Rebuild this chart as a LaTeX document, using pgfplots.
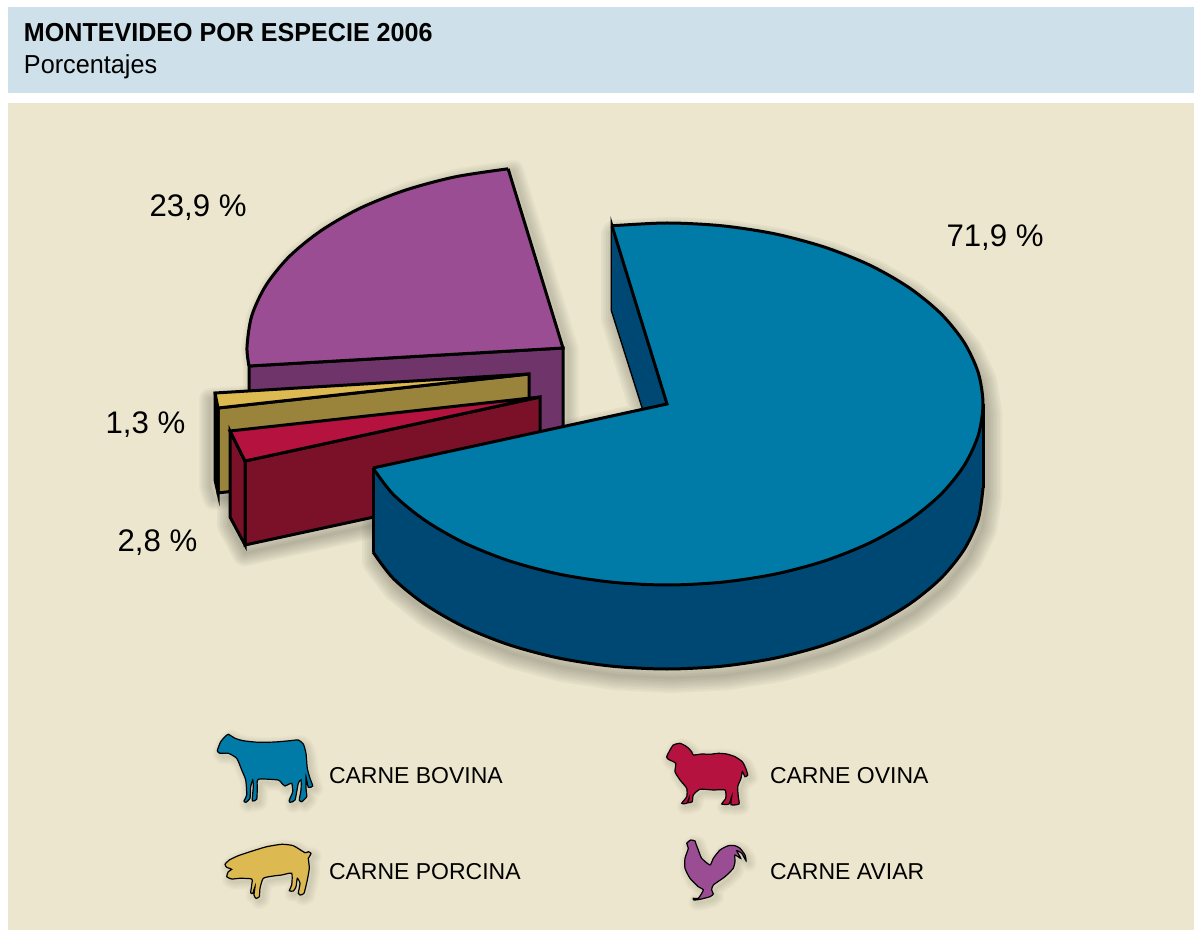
\documentclass[border=0pt]{standalone}
\usepackage{fontspec}
\setmainfont{Liberation Sans}
\usepackage{pgfplots}
\usepackage{pgfplotstable}
\pgfplotsset{compat=1.18}

\definecolor{headbg}{RGB}{206,224,234}
\definecolor{panelbg}{RGB}{235,230,205}
\definecolor{bovina}{RGB}{0,123,167}
\definecolor{bovinadark}{RGB}{0,72,116}
\definecolor{aviar}{RGB}{155,77,147}
\definecolor{aviardark}{RGB}{111,52,105}
\definecolor{porcina}{RGB}{221,185,81}
\definecolor{porcinadark}{RGB}{154,132,59}
\definecolor{ovina}{RGB}{181,18,63}
\definecolor{ovinadark}{RGB}{122,17,40}

% pie faces, in picture pixels
\pgfplotstableread{
x y
612.1 225.8
667 223
721.9 225.8
775.1 233.9
825 247.3
870.1 265.3
909.1 287.7
940.7 313.5
963.9 342.1
978.2 372.6
983 404
978.2 435.4
963.9 465.9
940.7 494.5
909.1 520.3
870.1 542.7
825 560.8
775.1 574.1
721.9 582.2
667 585
612.1 582.2
558.9 574.1
509 560.8
463.9 542.7
424.9 520.3
393.3 494.5
373 468
}\bovinaarc
\pgfplotstableread{
x y
983 488
978.2 519.4
963.9 549.9
940.7 578.5
909.1 604.3
870.1 626.7
825 644.8
775.1 658.1
721.9 666.2
667 669
612.1 666.2
558.9 658.1
509 644.8
463.9 626.7
424.9 604.3
393.3 578.5
373 552
}\bovinalow
\pgfplotstableread{
x y
667 404
612 226
612 310
643 408
373 468
373 552
393.3 578.5
424.9 604.3
463.9 626.7
509 644.8
558.9 658.1
612.1 666.2
667 669
721.9 666.2
775.1 658.1
825 644.8
870.1 626.7
909.1 604.3
940.7 578.5
963.9 549.9
978.2 519.4
983 488
983 404
978.2 372.6
963.9 342.1
940.7 313.5
909.1 287.7
870.1 265.3
825 247.3
775.1 233.9
721.9 225.8
667 223
612 226
}\bovinaout
\pgfplotstableread{
x y
508.1 168.8
454.9 176.9
405 190.3
359.9 208.3
321 230.7
289.3 256.5
266.1 285.1
251.8 315.6
247 347
249 366
}\aviararc
\pgfplotstableread{
x y
563 348
508.1 168.8
454.9 176.9
405 190.3
359.9 208.3
321 230.7
289.3 256.5
266.1 285.1
251.8 315.6
247 347
249 366
249 450
563 432
}\aviarout
\pgfplotstableread{
x y
215 393
529 374
529 455
219 493
215 480
}\porcinaout
\pgfplotstableread{
x y
230 431
540 397
540 481
245 545
230 517
}\ovinaout

% animal outlines
\pgfplotstableread{
x y
228.3 734.3
235 738.3
243.3 740.7
258.3 742.3
275 742
290 740.7
298.3 740
303.3 744
306 753.3
307.3 768.3
310 778.3
312.7 786
308.3 787.3
306 776.7
306 788.3
306.7 796.7
301.7 801.7
299.3 800
301 790
301 780
298.3 783.3
295 800
290 802.3
289.3 800
292.7 791.7
291.7 783.3
287.3 785
285 786
281.7 783.3
278.3 780
258.3 779.3
257.3 788.3
256.7 799.3
252.7 801
252.3 798.3
253.3 786.7
252.7 780
250.7 786.7
250 798.3
246 802.3
244 801
246.7 795
245.7 780
241.7 770
236.7 758.3
228.3 753.3
220 753.3
217.3 750.7
220.7 741.7
225 736.7
}\cow
\pgfplotstableread{
x y
225 864.3
229.3 860
238.3 855.7
253.3 850.7
266.7 846.7
281.7 844.3
293.3 845.7
305 852.7
308.3 851.7
311 853.3
309.3 856.7
308.3 858.3
309.3 868.3
307.3 880
304 893.3
300 895
298.3 893.3
300 883.3
297.3 878.3
296 886.7
293.3 891
289.3 890.7
291.7 885
291.7 873.3
281.7 875
273.3 876
263.3 878.3
260 888.3
259.3 896.7
256 898.3
254 895
255 886.7
252.7 893.3
250.7 892.7
251.7 885
251.7 879
240 878.3
231.7 879
226.7 876.7
228.3 871.7
231.7 869.3
226.7 867.3
}\pig
\pgfplotstableread{
x y
666.7 756.7
670 750
673.3 745
680 743.3
686.7 746.7
691.7 751.7
693.3 755
701.7 754
710 754.3
718.3 753.3
726.7 754
735 756.7
742.3 761.7
745.7 768.3
747.7 775
745 776.7
742.3 771.7
741 778.3
737.7 786.7
738.3 796.7
739 804
731 804.7
731.7 796.7
729 804
721.7 804
725.7 798.3
725 790
713.3 790
700 789.3
693.3 795
692.3 801.7
688.3 802.7
689 798.3
686.7 803.3
681.7 803.3
686.7 796.7
686.7 788.3
680 780
675 771.7
675.7 763.3
668.3 759.3
}\sheep
\pgfplotstableread{
x y
686.7 843.3
690.7 840
695 841
696 844
698.3 850
701.7 858.3
710 865
713.3 858.3
720 850
728.3 845.7
735 845.7
740 848.3
745 855
746 860.7
741.7 853.3
736.7 850.7
740.7 858.3
735 855
735 861.7
733.3 868.3
725 876.7
713.3 885
711.7 890
713.3 894
710 896.7
700 899.3
694 900
693.3 898.3
698.3 898.3
703.3 890
698.3 886.7
690 878.3
685 868.3
685 858.3
688.3 848.3
}\rooster

% blurred shadow: stacked see-through strokes of an outline
\pgfplotsset{shadowlayer/.style={draw=black!70!panelbg,draw opacity=#1,line join=round}}
\newcommand{\softshadow}[5]{%
  \addplot[shadowlayer=#5,line width=#4*1.0pt] table[x expr=\thisrow{x}+#2,y expr=\thisrow{y}+#3]{#1} -- cycle;
  \addplot[shadowlayer=#5,line width=#4*0.85pt] table[x expr=\thisrow{x}+#2,y expr=\thisrow{y}+#3]{#1} -- cycle;
  \addplot[shadowlayer=#5,line width=#4*0.7pt] table[x expr=\thisrow{x}+#2,y expr=\thisrow{y}+#3]{#1} -- cycle;
  \addplot[shadowlayer=#5,line width=#4*0.55pt] table[x expr=\thisrow{x}+#2,y expr=\thisrow{y}+#3]{#1} -- cycle;
  \addplot[shadowlayer=#5,line width=#4*0.4pt] table[x expr=\thisrow{x}+#2,y expr=\thisrow{y}+#3]{#1} -- cycle;
  \addplot[shadowlayer=#5,line width=#4*0.25pt] table[x expr=\thisrow{x}+#2,y expr=\thisrow{y}+#3]{#1} -- cycle;
  \addplot[shadowlayer=#5,line width=#4*0.1pt] table[x expr=\thisrow{x}+#2,y expr=\thisrow{y}+#3]{#1} -- cycle;
}

\begin{document}
\begin{tikzpicture}
\begin{axis}[
    width=597pt,height=465pt,
    scale only axis,
    hide axis,
    xmin=0,xmax=1194,
    ymin=0,ymax=930,
    y dir=reverse,
    clip=true,
    line width=1.5pt,
    cycle list={{black}},
    no markers,
    every axis plot/.append style={mark=none},
    ]
    % background bands
    \addplot[fill=white,draw=none] coordinates {(0,0)(1194,0)(1194,930)(0,930)} -- cycle;
    \addplot[fill=headbg,draw=none] coordinates {(8,7)(1194,7)(1194,93)(8,93)} -- cycle;
    \addplot[fill=panelbg,draw=none] coordinates {(8,103)(1194,103)(1194,930)(8,930)} -- cycle;

    % shadows
    \softshadow{\bovinaout}{4}{9}{15}{0.05}
    \softshadow{\aviarout}{5}{2}{11}{0.035}
    \softshadow{\ovinaout}{0}{8}{13}{0.05}
    \softshadow{\porcinaout}{-5}{6}{11}{0.04}
    \softshadow{\cow}{3}{3}{8}{0.025}
    \softshadow{\pig}{3}{3}{8}{0.025}
    \softshadow{\sheep}{3}{3}{8}{0.025}
    \softshadow{\rooster}{3}{3}{8}{0.025}

    % aviar
    \addplot[fill=aviardark,draw=black] coordinates {(249,366)(563,348)(563,432)(249,450)} -- cycle;
    \addplot[fill=aviar,draw=none] table {\aviararc} -- (axis cs:563,348) -- cycle;
    \addplot[draw=black,smooth] table {\aviararc};
    \addplot[draw=black] coordinates {(249,366)(563,348)(508.1,168.8)};

    % porcina
    \addplot[fill=porcinadark,draw=black] coordinates {(218,408)(529,374)(529,455)(218,493)} -- cycle;
    \addplot[fill=porcinadark,draw=black] coordinates {(215,393)(218,408)(218,493)(215,480)} -- cycle;
    \addplot[fill=porcina,draw=black] coordinates {(215,393)(529,374)(218,408)} -- cycle;

    % ovina
    \addplot[fill=ovinadark,draw=black] coordinates {(245,461)(540,397)(540,481)(245,545)} -- cycle;
    \addplot[fill=ovinadark,draw=black] coordinates {(230,431)(245,461)(245,545)(230,517)} -- cycle;
    \addplot[fill=ovina,draw=black] coordinates {(230,431)(540,397)(245,461)} -- cycle;

    % bovina
    \addplot[fill=bovinadark,draw=black] coordinates {(612,226)(612,310)(643,408)(667,404)} -- cycle;
    \addplot[fill=bovinadark,draw=none] table {\bovinaout} -- cycle;
    \addplot[draw=black,smooth] table {\bovinalow};
    \addplot[draw=black] coordinates {(373,468)(373,552)};
    \addplot[draw=black] coordinates {(983,404)(983,488)};
    \addplot[fill=bovina,draw=none] table {\bovinaarc} -- (axis cs:667,404) -- cycle;
    \addplot[draw=black,smooth] table {\bovinaarc};
    \addplot[draw=black] coordinates {(612,226)(667,404)(373,468)};

    % animals
    \addplot[fill=bovina,draw=black,line width=0.6pt,smooth cycle,tension=0.35] table {\cow};
    \addplot[fill=porcina,draw=black,line width=0.6pt,smooth cycle,tension=0.35] table {\pig};
    \addplot[fill=ovina,draw=black,line width=0.6pt,smooth cycle,tension=0.35] table {\sheep};
    \addplot[fill=aviar,draw=black,line width=0.6pt,smooth cycle,tension=0.35] table {\rooster};

    % texts
    \node[anchor=base west,inner sep=0pt,font=\fontsize{13}{15}\selectfont\bfseries] at (axis cs:22.5,42) {\scalebox{0.965}[1]{MONTEVIDEO POR ESPECIE 2006}};
    \node[anchor=base west,inner sep=0pt,font=\fontsize{13}{15}\selectfont] at (axis cs:22.5,74) {\scalebox{0.97}[1]{Porcentajes}};
    \node[anchor=base west,inner sep=0pt,font=\fontsize{15.6}{18}\selectfont] at (axis cs:945,246.5) {71,9 \%};
    \node[anchor=base west,inner sep=0pt,font=\fontsize{15.6}{18}\selectfont] at (axis cs:148,217) {23,9 \%};
    \node[anchor=base west,inner sep=0pt,font=\fontsize{15.6}{18}\selectfont] at (axis cs:104,434) {1,3 \%};
    \node[anchor=base west,inner sep=0pt,font=\fontsize{15.6}{18}\selectfont] at (axis cs:116,551) {2,8 \%};
    \node[anchor=base west,inner sep=0pt,font=\fontsize{11.5}{14}\selectfont] at (axis cs:327.5,783) {CARNE BOVINA};
    \node[anchor=base west,inner sep=0pt,font=\fontsize{11.5}{14}\selectfont] at (axis cs:768.5,783) {CARNE OVINA};
    \node[anchor=base west,inner sep=0pt,font=\fontsize{11.5}{14}\selectfont] at (axis cs:327.5,879) {CARNE PORCINA};
    \node[anchor=base west,inner sep=0pt,font=\fontsize{11.5}{14}\selectfont] at (axis cs:768.5,879) {CARNE AVIAR};
\end{axis}
\end{tikzpicture}
\end{document}
